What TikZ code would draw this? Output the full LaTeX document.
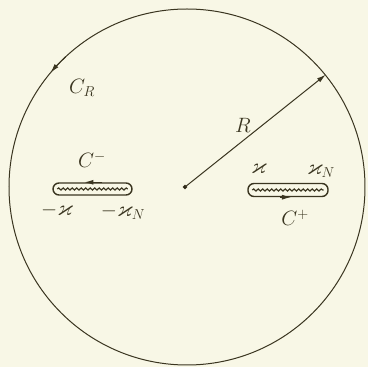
\documentclass[tikz,border=0pt]{standalone}
\usepackage{amssymb}
\usetikzlibrary{arrows.meta,decorations.pathmorphing,calc}
\definecolor{paper}{HTML}{F8F7E6}
\definecolor{ink}{HTML}{3A3520}
\tikzset{
  ink/.style={draw=ink, line width=1pt},
  slot/.style={ink, line width=1.4pt, rounded corners=6pt, minimum height=12pt, inner sep=0pt},
  wave/.style={ink, line width=1.2pt, decorate, decoration={snake, amplitude=1pt, segment length=4.5pt}},
  lab/.style={text=ink, font=\fontsize{22}{26}\selectfont, inner sep=0pt},
  tip/.style={-{Latex[length=9pt,width=5pt]}},
}
\begin{document}
\begin{tikzpicture}[x=1pt,y=1pt]
\fill[paper] (0,0) rectangle (368,367);
\useasboundingbox (0,0) rectangle (368,367);
% big circle
\node[ink, circle, minimum size=356pt, inner sep=0pt] (circ) at (187,180) {};
\coordinate (o) at (185,180);
\fill[ink] (o) circle (1.6pt);
% C_R arrow on the circle (counterclockwise)
\draw[ink, tip] ($(circ.center)+(133:178)$) arc[start angle=133, end angle=140, radius=178];
% radius arrow
\draw[ink, tip] (o) -- (circ.39);
% slots
\node[slot, minimum width=79pt] (sL) at (92.5,178) {};
\node[slot, minimum width=80pt, minimum height=13pt] (sR) at (288,177) {};
\draw[wave] ($(sL.west)+(5,0)$) -- ($(sL.east)+(-5,0)$);
\draw[wave] ($(sR.west)+(5,0)$) -- ($(sR.east)+(-5,0)$);
% slot arrows
\draw[ink, tip] ($(sL.north)+(10,0)$) -- ($(sL.north)+(-8,0)$);
\draw[ink, tip] ($(sR.south)+(-8,0)$) -- ($(sR.south)+(3,0)$);
% labels
\node[lab] (lCR) at (82,279) {$C_R$};
\node[lab] (lR) at (243,242) {$R$};
\node[lab] (lCm) at (92,207) {$C^-$};
\node[lab] (lmk) at (57,157) {$-\varkappa$};
\node[lab] (lmkN) at (123,155) {$-\varkappa_N$};
\node[lab] (lk) at (259,198) {$\varkappa$};
\node[lab] (lkN) at (321,196) {$\varkappa_N$};
\node[lab] (lCp) at (295,149) {$C^+$};
\end{tikzpicture}
\end{document}
